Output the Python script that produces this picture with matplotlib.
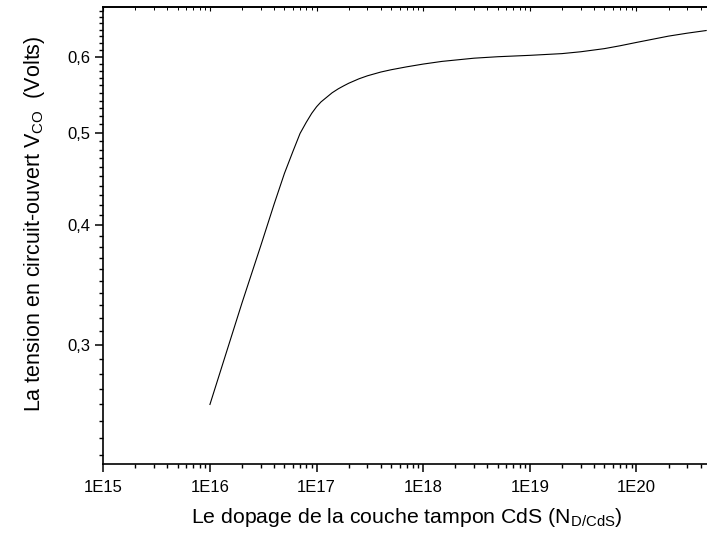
import numpy as np
import matplotlib
matplotlib.use("Agg")
import matplotlib.pyplot as plt
from matplotlib.ticker import FixedLocator, NullFormatter, FuncFormatter, LogLocator

plt.rcParams["font.family"] = ["Liberation Sans", "DejaVu Sans"]
plt.rcParams["mathtext.fontset"] = "custom"
plt.rcParams["mathtext.rm"] = "Liberation Sans"
plt.rcParams["mathtext.it"] = "Liberation Sans:italic"

# CdS buffer doping (cm^-3) and open-circuit voltage (V)
doping = [1e16, 2e16, 3e16, 4e16, 5e16, 6e16, 7e16, 8e16, 9e16, 1e17,
          1.1e17, 1.2e17, 1.4e17, 1.6e17, 1.8e17, 2e17, 2.5e17, 3e17, 4e17,
          5e17, 7e17, 1e18, 1.5e18, 3e18, 5e18, 1e19, 2e19, 3e19, 5e19,
          7e19, 1e20, 2e20, 3e20, 4.5e20]
voc = [0.260, 0.332, 0.381, 0.421, 0.4533, 0.4778, 0.4989, 0.5124, 0.5236, 0.5320,
       0.5382, 0.5425, 0.5502, 0.5555, 0.5595, 0.5629, 0.5690, 0.5731, 0.5783,
       0.5815, 0.5856, 0.5895, 0.5933, 0.5979, 0.600, 0.602, 0.6045, 0.6072, 0.6118,
       0.616, 0.621, 0.6305, 0.635, 0.639]

x_major = [1e15, 1e16, 1e17, 1e18, 1e19, 1e20]
x_labels = ["1E15", "1E16", "1E17", "1E18", "1E19", "1E20"]
y_major = [0.3, 0.4, 0.5, 0.6]

fig = plt.figure(figsize=(7.07, 5.38), dpi=100)
ax = fig.add_axes([0.1461, 0.1375, 0.8596, 0.8489])

ax.plot(doping, voc, color="black", lw=0.8)

ax.set_xscale("log")
ax.set_yscale("log")
ax.set_xlim(1e15, 5e20)
ax.set_ylim(0.2253, 0.6757)

ax.xaxis.set_major_locator(FixedLocator(x_major))
ax.xaxis.set_major_formatter(FuncFormatter(
    lambda v, p: x_labels[x_major.index(v)] if v in x_major else ""))
ax.xaxis.set_minor_locator(LogLocator(base=10, subs=np.arange(2, 10), numticks=20))
ax.xaxis.set_minor_formatter(NullFormatter())

ax.yaxis.set_major_locator(FixedLocator(y_major))
ax.yaxis.set_major_formatter(FuncFormatter(lambda v, p: f"{v:.1f}".replace(".", ",")))
ax.yaxis.set_minor_locator(FixedLocator(np.round(np.arange(0.22, 0.68, 0.01), 2)))
ax.yaxis.set_minor_formatter(NullFormatter())

ax.tick_params(axis="both", which="major", direction="out", length=5.5, width=1.1,
               labelsize=12, colors="black")
ax.tick_params(axis="both", which="minor", direction="out", length=3, width=1.0)
ax.tick_params(axis="x", which="major", pad=6)

# small inward ticks along the top edge
top = ax.secondary_xaxis("top")
top.set_xscale("log")
top.xaxis.set_major_locator(FixedLocator(x_major))
top.xaxis.set_minor_locator(LogLocator(base=10, subs=np.arange(2, 10), numticks=20))
top.xaxis.set_major_formatter(NullFormatter())
top.xaxis.set_minor_formatter(NullFormatter())
top.tick_params(which="major", direction="in", length=3, width=0.8)
top.tick_params(which="minor", direction="in", length=2, width=0.7)
top.spines["top"].set_linewidth(1.2)

for s in ax.spines.values():
    s.set_linewidth(1.2)

ax.set_xlabel("Le dopage de la couche tampon CdS (N$_{\\mathrm{D/CdS}}$)",
              fontsize=15.3, labelpad=8)
ax.set_ylabel("La tension en circuit-ouvert V$_{\\mathrm{CO}}$  (Volts)",
              fontsize=15.5)
ax.yaxis.set_label_coords(-0.093, 0.527)

fig.savefig("out.png", dpi=100)
